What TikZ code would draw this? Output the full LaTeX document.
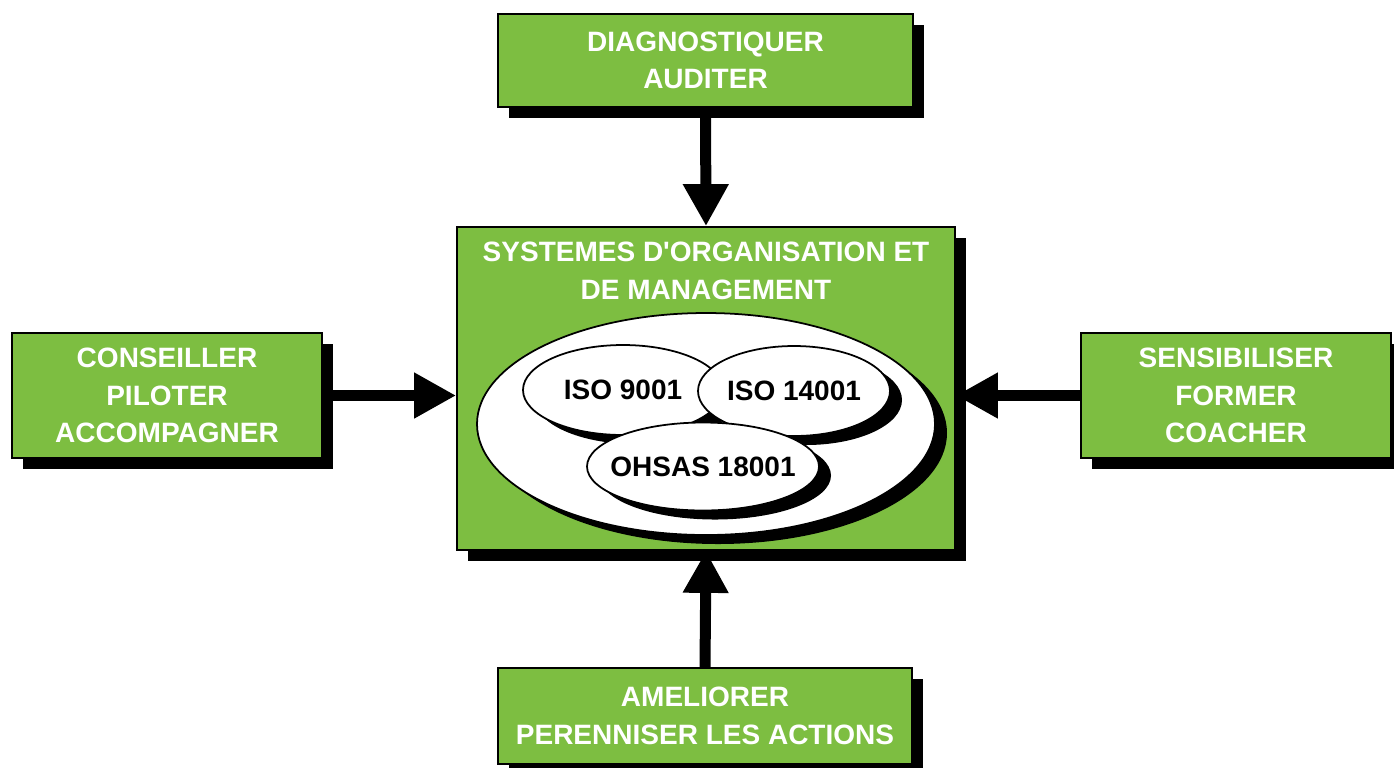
\documentclass[tikz,border=0pt]{standalone}
\usepackage{fontspec}
\setmainfont{Liberation Sans}
\usetikzlibrary{arrows.meta, positioning, shapes.geometric, shadows}

\definecolor{boxgreen}{RGB}{125,190,65}

\tikzset{
  blackshadow/.style={drop shadow={shadow xshift=0.11cm, shadow yshift=-0.11cm, fill=black, opacity=1}},
  greenbox/.style={draw=black, line width=0.5pt, fill=boxgreen, inner sep=0pt, blackshadow},
  whitetext/.style={text=white, align=center, inner sep=0pt, font=\bfseries\fontsize{7.97}{10.7}\selectfont},
  isooval/.style={ellipse, draw=black, line width=0.5pt, fill=white, inner ysep=0pt, inner xsep=-0.2cm,
    font=\bfseries\fontsize{7.97}{10}\selectfont,
    drop shadow={shadow xshift=0.12cm, shadow yshift=-0.09cm, fill=black, opacity=1}},
  bigarrow/.style={line width=0.11cm, -{Triangle[length=0.42cm, width=0.43cm]}}
}

\begin{document}
\begin{tikzpicture}
  \useasboundingbox (0,0) rectangle (13.94,-7.67);

  % Central box
  \node[greenbox, minimum width=4.98cm, minimum height=3.23cm] (sys) at (7.06,-3.885) {};
  \node[whitetext, below=0.15cm of sys.north] (systitle) {SYSTEMES D\textquotesingle ORGANISATION ET\\DE MANAGEMENT};

  % Standards
  \node[isooval, minimum width=4.58cm, minimum height=2.22cm] (standards) at (7.06,-4.24) {};
  \node[isooval, minimum width=2.0cm, minimum height=0.9cm] (iso9) at (6.23,-3.90) {ISO 9001};
  \node[isooval, minimum width=1.92cm, minimum height=0.9cm] (iso14) at (7.94,-3.91) {ISO 14001};
  \node[isooval, minimum width=2.32cm, minimum height=0.88cm] (ohsas) at (7.03,-4.665) {OHSAS 18001};

  % Outer boxes
  \node[greenbox, minimum width=4.15cm, minimum height=0.93cm] (diag) at (7.055,-0.605) {};
  \node[whitetext] at (diag) {DIAGNOSTIQUER\\AUDITER};

  \node[greenbox, minimum width=3.10cm, minimum height=1.25cm] (conseil) at (1.67,-3.955) {};
  \node[whitetext] at (conseil) {CONSEILLER\\PILOTER\\ACCOMPAGNER};

  \node[greenbox, minimum width=3.10cm, minimum height=1.25cm] (sensib) at (12.36,-3.955) {};
  \node[whitetext] at (sensib) {SENSIBILISER\\FORMER\\COACHER};

  \node[greenbox, minimum width=4.14cm, minimum height=0.96cm] (amelio) at (7.05,-7.16) {};
  \node[whitetext] at (amelio) {AMELIORER\\PERENNISER LES ACTIONS};

  % Arrows
  \draw[bigarrow] (diag.south) -- (sys.north);
  \draw[bigarrow] (conseil.east) -- (conseil.east -| sys.west);
  \draw[bigarrow] (sensib.west) -- (sensib.west -| sys.east);
  \draw[bigarrow] (amelio.north) -- (sys.south);

\end{tikzpicture}
\end{document}
